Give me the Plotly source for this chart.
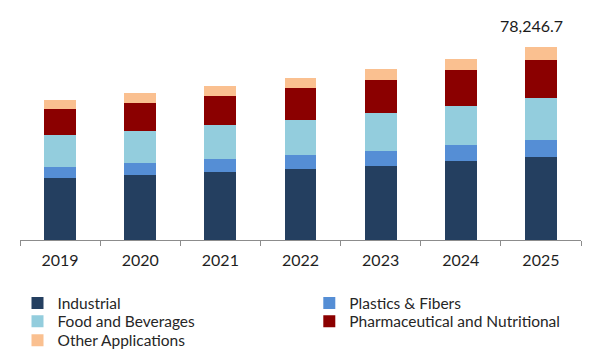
import plotly.graph_objects as go

years = ["2019", "2020", "2021", "2022", "2023", "2024", "2025"]
industrial = [25220, 26310, 27530, 28740, 30080, 31980, 33726.7]
plastics = [4450, 4980, 5380, 5670, 6070, 6480, 6760]
food = [12830, 12950, 13640, 14170, 15380, 15790, 17000]
pharma = [10520, 11330, 11860, 13070, 13240, 14570, 15380]
other = [3640, 4050, 3930, 4050, 4450, 4450, 5380]

series = [
    ("Industrial", industrial, "#243F60"),
    ("Plastics & Fibers", plastics, "#558ED5"),
    ("Food and Beverages", food, "#93CDDD"),
    ("Pharmaceutical and Nutritional", pharma, "#8B0000"),
    ("Other Applications", other, "#FAC090"),
]

# page body has an 8px margin: size the figure so it fills the 600x360 window
OFF = 8
FIG_W, FIG_H = 600 - OFF, 360 - OFF
# plot-area geometry in page pixels
W, H, L, T = 561, 220, 20, 20
def px_x(p):
    return (p - L) / W
def px_y(p):
    return (T + H - p) / H

legend_pos = [
    (px_x(17.5), px_y(303.5)),
    (px_x(309.3), px_y(303.5)),
    (px_x(17.5), px_y(321.7)),
    (px_x(309.3), px_y(321.7)),
    (px_x(17.5), px_y(340.7)),
]

fig = go.Figure()
legend_layout = {}
for i, ((name, vals, col), (lx, ly)) in enumerate(zip(series, legend_pos)):
    lid = "legend" if i == 0 else f"legend{i + 1}"
    fig.add_trace(go.Bar(x=years, y=vals, name=name, legend=lid,
                         marker=dict(color=col, line=dict(width=0))))
    legend_layout[lid] = dict(orientation="v", x=lx, xanchor="left", y=ly, yanchor="middle",
                              itemwidth=30, font=dict(size=15.5, color="#262626"),
                              bgcolor="rgba(0,0,0,0)", borderwidth=0)

total_2025 = sum(v[-1] for _, v, _ in series)
fig.add_annotation(x=len(years) - 1, y=total_2025, text=f"{total_2025:,.1f}", showarrow=False,
                   yanchor="bottom", yshift=10, xshift=-9, font=dict(size=16, color="#1a1a1a"))

fig.update_layout(
    width=FIG_W, height=FIG_H,
    barmode="stack", bargap=0.604,
    margin=dict(l=L - OFF, r=FIG_W - (L - OFF) - W, t=T - OFF, b=FIG_H - (T - OFF) - H,
                autoexpand=False),
    paper_bgcolor="white", plot_bgcolor="white",
    font=dict(family="Lato, Liberation Sans, sans-serif", size=14, color="#262626"),
    xaxis=dict(type="category", range=[-0.5, len(years) - 0.5], showline=True,
               linecolor="#8C8C8C", linewidth=1,
               ticks="outside", tickson="boundaries", ticklen=5, tickcolor="#8C8C8C",
               ticklabelstandoff=6,
               tickfont=dict(size=16, color="#1f1f1f"), showgrid=False),
    yaxis=dict(visible=False, range=[0, 89056], showgrid=False),
    showlegend=True,
    **legend_layout,
)

fig.write_html("out.html")
